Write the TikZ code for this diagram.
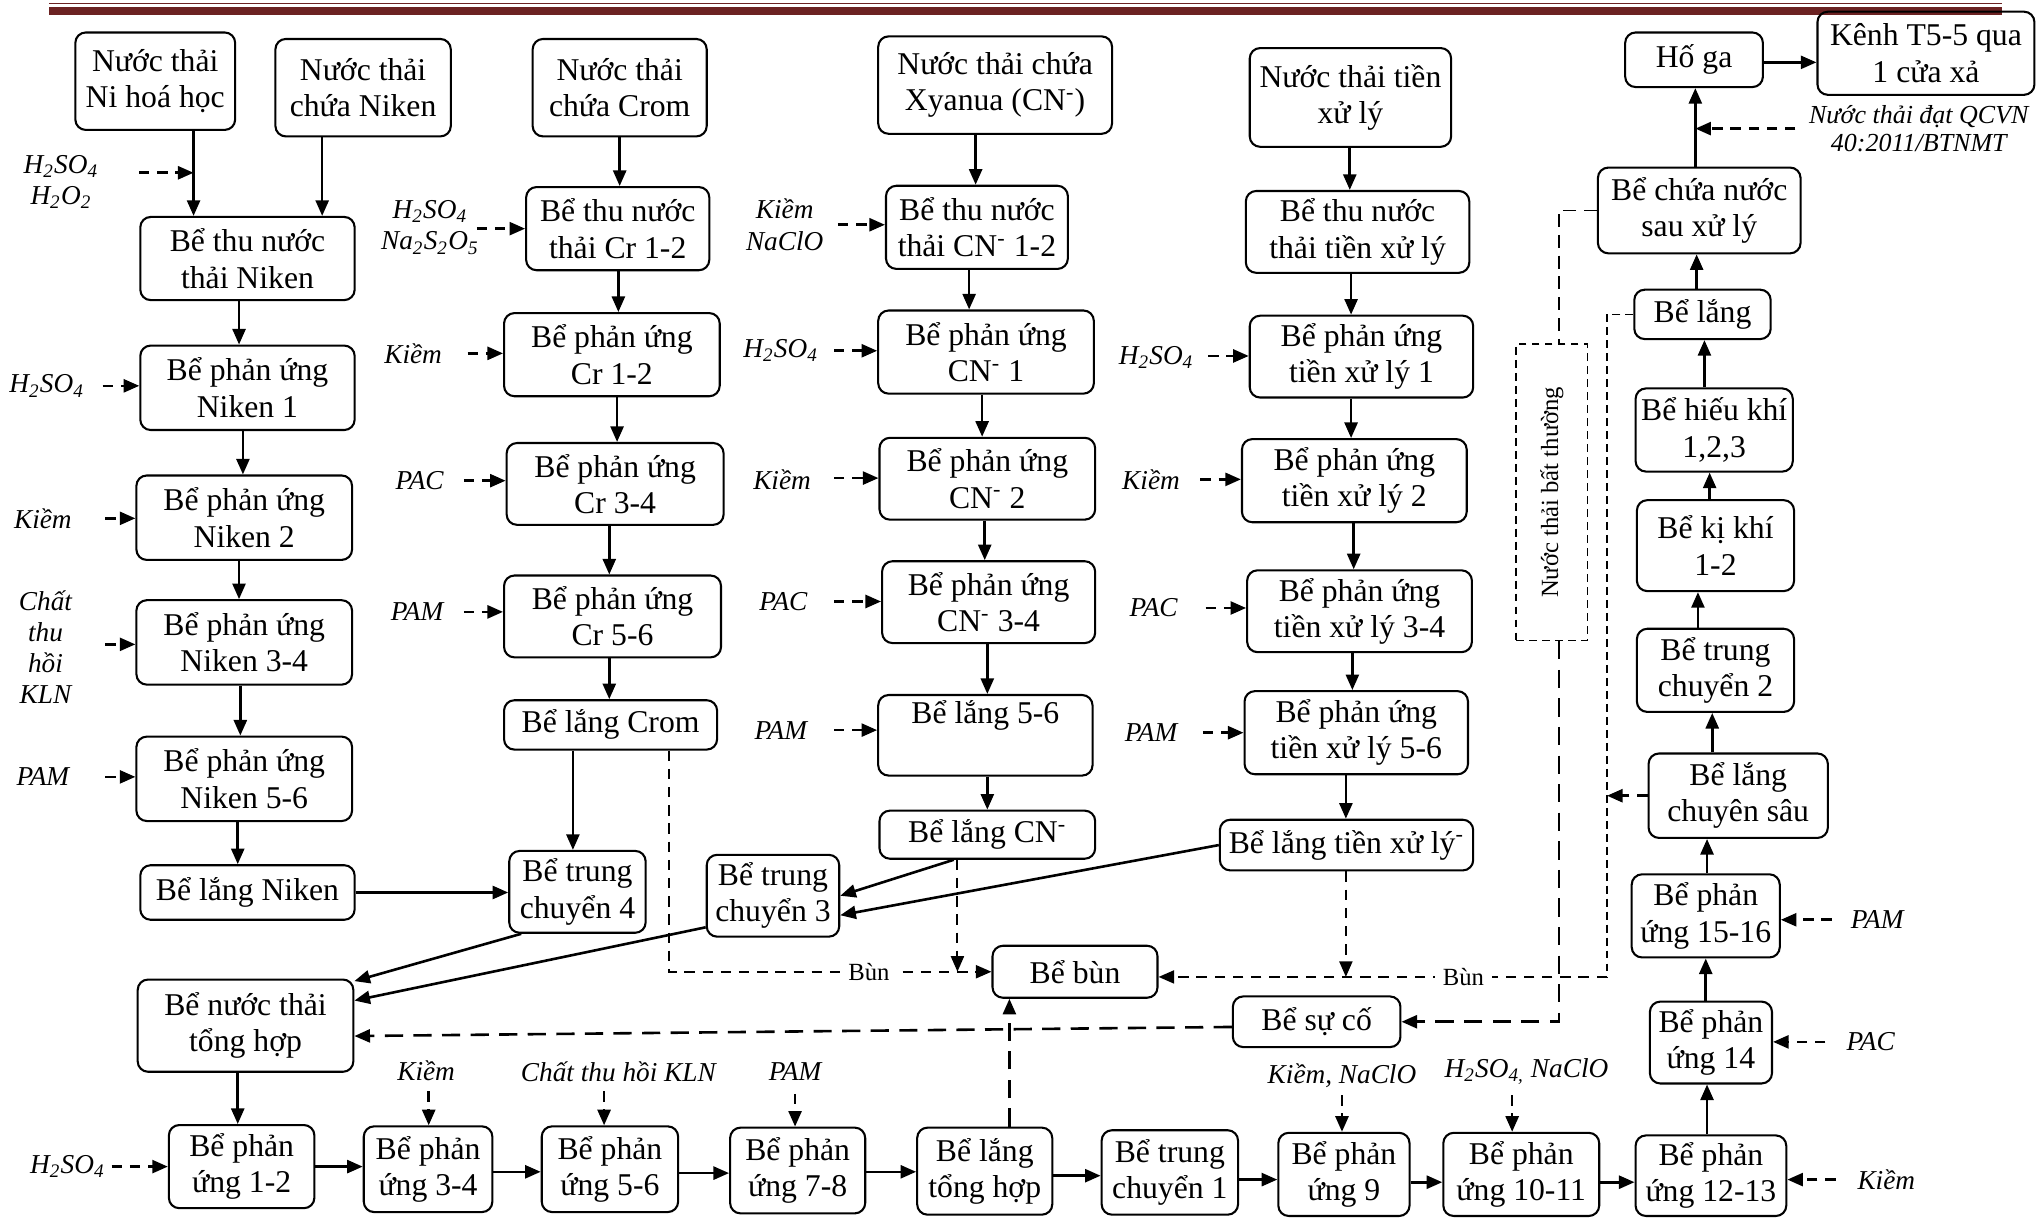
\documentclass[tikz,border=0pt]{standalone}
\usepackage{fontspec}
\setmainfont{Liberation Serif}
\usepackage{graphicx}
\usetikzlibrary{arrows.meta}
\definecolor{hdr}{RGB}{108,34,34}

\tikzset{
  box/.style={draw, line width=0.8pt, rounded corners=4pt, align=center, inner sep=0pt,
    font=\fontsize{12.2}{14}\selectfont},
  tip/.style={-{Triangle[length=6pt,width=5pt]}},
  flow/.style={line width=1pt, tip},
  feed/.style={line width=1pt, dash pattern=on 4pt off 3pt, tip},
  rg/.style={font=\fontsize{10.5}{12}\selectfont\itshape, align=center, inner sep=0pt},
  mud/.style={line width=0.8pt, dash pattern=on 4pt off 3pt},
  longdash/.style={line width=1pt, dash pattern=on 7pt off 4pt},
  middash/.style={line width=0.7pt, dash pattern=on 5pt off 3pt},
  thindash/.style={line width=0.6pt, dash pattern=on 3pt off 2pt},
  small/.style={font=\fontsize{9.5}{11}\selectfont, inner sep=3pt}
}

% box from corner (x1,y1) to (x2,y2)
\newcommand\bx[6]{\node[box, minimum width={(#4-#2)*0.5pt}, minimum height={(#5-#3)*0.5pt}] (#1) at ({(#2+#4)/2},{(#3+#5)/2}) {#6};}
% vertical / horizontal process arrows at a given x or y
\newcommand\vdown[3]{\coordinate (vx) at (#3,0); \draw[flow] (#1.south -| vx) -- (#2.north -| vx);}
\newcommand\vup[3]{\coordinate (vx) at (#3,0); \draw[flow] (#1.north -| vx) -- (#2.south -| vx);}
\newcommand\hright[3]{\coordinate (hy) at (0,#3); \draw[flow] (#1.east |- hy) -- (#2.west |- hy);}
% chemical dosing arrows
\newcommand\feedW[5]{\node[rg] (#1) at (#2) {#3}; \coordinate (#1s) at (#4); \draw[feed] (#1s) -- (#1s -| #5.west);}
\newcommand\feedE[5]{\node[rg] (#1) at (#2) {#3}; \coordinate (#1s) at (#4); \draw[feed] (#1s) -- (#1s -| #5.east);}
\newcommand\feedN[5]{\node[rg] (#1) at (#2) {#3}; \coordinate (#1s) at (#4); \draw[feed] (#1s) -- (#1s |- #5.north);}
\newcommand\hso{H\textsubscript{2}SO\textsubscript{4}}

\begin{document}
\begin{tikzpicture}[x=0.5pt, y=-0.5pt]
\useasboundingbox (0,0) rectangle (1568,937);

% header rule
\draw[hdr, line width=0.5pt] (38,2.5) -- (1541,2.5);
\draw[hdr, line width=3pt] (38,8.5) -- (1541,8.5);

% Niken line
\bx{A1}{58}{25}{181}{100}{Nước thải\\Ni hoá học}
\bx{A2}{212}{30}{347}{105}{Nước thải\\chứa Niken}
\bx{A3}{108}{167}{273}{231}{Bể thu nước\\thải Niken}
\bx{A4}{108}{266}{273}{331}{Bể phản ứng\\Niken 1}
\bx{A5}{105}{366}{271}{431}{Bể phản ứng\\Niken 2}
\bx{A6}{105}{462}{271}{527}{Bể phản ứng\\Niken 3-4}
\bx{A7}{105}{567}{271}{632}{Bể phản ứng\\Niken 5-6}
\bx{A8}{108}{666}{273}{708}{Bể lắng Niken}

% Crom line
\bx{B1}{410}{30}{544}{105}{Nước thải\\chứa Crom}
\bx{B2}{405}{144}{546}{208}{Bể thu nước\\thải Cr 1-2}
\bx{B3}{388}{241}{554}{305}{Bể phản ứng\\Cr 1-2}
\bx{B4}{390}{341}{557}{404}{Bể phản ứng\\Cr 3-4}
\bx{B5}{388}{443}{555}{506}{Bể phản ứng\\Cr 5-6}
\bx{B6}{388}{539}{552}{577}{Bể lắng Crom}
\bx{B7}{392}{655}{497}{718}{Bể trung\\chuyển 4}

% Xyanua line
\bx{C1}{676}{28}{856}{103}{Nước thải chứa\\Xyanua (CN\textsuperscript{-})}
\bx{C2}{682}{143}{822}{207}{Bể thu nước\\thải CN\textsuperscript{-} 1-2}
\bx{C3}{676}{239}{842}{303}{Bể phản ứng\\CN\textsuperscript{-} 1}
\bx{C4}{677}{337}{843}{400}{Bể phản ứng\\CN\textsuperscript{-} 2}
\bx{C5}{679}{432}{843}{495}{Bể phản ứng\\CN\textsuperscript{-} 3-4}
\bx{C6}{676}{535}{841}{597}{Bể lắng 5-6\\\strut}
\bx{C7}{677}{624}{843}{661}{Bể lắng CN\textsuperscript{-}}
\bx{D3}{544}{658}{646}{721}{Bể trung\\chuyển 3}

% pre-treatment line
\bx{E1}{962}{37}{1117}{113}{Nước thải tiền\\xử lý}
\bx{E2}{959}{147}{1131}{210}{Bể thu nước\\thải tiền xử lý}
\bx{E3}{962}{243}{1134}{306}{Bể phản ứng\\tiền xử lý 1}
\bx{E4}{956}{338}{1129}{402}{Bể phản ứng\\tiền xử lý 2}
\bx{E5}{960}{439}{1133}{502}{Bể phản ứng\\tiền xử lý 3-4}
\bx{E6}{958}{532}{1130}{596}{Bể phản ứng\\tiền xử lý 5-6}
\bx{E7}{939}{631}{1134}{670}{Bể lắng tiền xử lý\textsuperscript{-}}

\bx{G}{106}{754}{272}{825}{Bể nước thải\\tổng hợp}
\bx{bun}{764}{728}{891}{768}{Bể bùn}
\bx{sc}{949}{767}{1078}{806}{Bể sự cố}

% final treatment column
\bx{R1}{1251}{25}{1357}{67}{Hố ga}
\bx{R2}{1399}{9}{1566}{73}{Kênh T5-5 qua\\1 cửa xả}
\bx{R3}{1230}{129}{1386}{195}{Bể chứa nước\\sau xử lý}
\bx{R4}{1258}{223}{1363}{261}{Bể lắng}
\bx{R5}{1259}{299}{1380}{363}{Bể hiếu khí\\1,2,3}
\bx{R6}{1260}{385}{1381}{455}{Bể kị khí\\1-2}
\bx{R7}{1260}{484}{1381}{548}{Bể trung\\chuyển 2}
\bx{R8}{1269}{580}{1407}{645}{Bể lắng\\chuyên sâu}
\bx{R9}{1256}{673}{1370}{737}{Bể phản\\ứng 15-16}
\bx{R10}{1270}{771}{1364}{834}{Bể phản\\ứng 14}
\bx{R11}{1259}{874}{1375}{936}{Bể phản\\ứng 12-13}

% bottom row
\bx{F1}{130}{866}{242}{930}{Bể phản\\ứng 1-2}
\bx{F2}{280}{867}{379}{933}{Bể phản\\ứng 3-4}
\bx{F3}{417}{867}{522}{933}{Bể phản\\ứng 5-6}
\bx{F4}{562}{868}{666}{934}{Bể phản\\ứng 7-8}
\bx{F5}{706}{868}{810}{935}{Bể lắng\\tổng hợp}
\bx{F6}{848}{870}{953}{935}{Bể trung\\chuyển 1}
\bx{F7}{984}{872}{1085}{936}{Bể phản\\ứng 9}
\bx{F8}{1111}{872}{1231}{936}{Bể phản\\ứng 10-11}

% abnormal wastewater frame
\node[draw, thindash, minimum width=27.5pt, minimum height=114pt, inner sep=0pt] (abn) at (1194.5,379)
  {\rotatebox{90}{\fontsize{9.5}{11}\selectfont Nước thải bất thường}};

% ---- process flow ----
\vdown{A1}{A3}{149}
\vdown{A2}{A3}{248}
\vdown{A3}{A4}{184}
\vdown{A4}{A5}{187}
\vdown{A5}{A6}{184}
\vdown{A6}{A7}{185}
\vdown{A7}{A8}{183}
\draw[flow] (A8.east) -- (A8.east -| B7.west);

\vdown{B1}{B2}{477}
\vdown{B2}{B3}{476}
\vdown{B3}{B4}{475}
\vdown{B4}{B5}{469}
\vdown{B5}{B6}{469}
\vdown{B6}{B7}{441}

\vdown{C1}{C2}{751}
\vdown{C2}{C3}{746}
\vdown{C3}{C4}{756}
\vdown{C4}{C5}{758}
\vdown{C5}{C6}{760}
\vdown{C6}{C7}{760}

\vdown{E1}{E2}{1039}
\vdown{E2}{E3}{1040}
\vdown{E3}{E4}{1040}
\vdown{E4}{E5}{1042}
\vdown{E5}{E6}{1041}
\vdown{E6}{E7}{1036}

\draw[flow] ([xshift=5pt]B7.south west) -- ([yshift=-1pt]G.north east);
\draw[flow] ([yshift=4pt]D3.south west) -- ([yshift=-8.5pt]G.north east);
\draw[flow] ([xshift=29pt]C7.south west) -- (D3.east);
\draw[flow] (E7.west) -- ([yshift=-7.5pt]D3.east);

\vdown{G}{F1}{183}
\hright{F1}{F2}{898}
\hright{F2}{F3}{902}
\hright{F3}{F4}{903}
\hright{F4}{F5}{902}
\hright{F5}{F6}{905}
\hright{F6}{F7}{908}
\hright{F7}{F8}{910}
\hright{F8}{R11}{910}

\vup{R11}{R10}{1314}
\vup{R10}{R9}{1313}
\vup{R9}{R8}{1314}
\vup{R8}{R7}{1318}
\vup{R7}{R6}{1307}
\vup{R6}{R5}{1316}
\vup{R5}{R4}{1312}
\vup{R4}{R3}{1306}
\coordinate (up) at (1305,0);
\draw[flow] (R3.north -| up) -- (R1.south -| up);
\hright{R1}{R2}{48}

% ---- dosing ----
\coordinate (k1) at (149,133);
\node[rg] (rA1) at (47,140) {\hso\\H\textsubscript{2}O\textsubscript{2}};
\coordinate (rA1s) at (107,133);
\draw[feed] (rA1s) -- (k1);
\feedW{rA4}{36,297}{\hso}{79,297}{A4}
\feedW{rA5}{33,399}{Kiềm}{81,399}{A5}
\feedW{rA6}{35,498}{Chất\\thu\\hồi\\KLN}{81,496}{A6}
\feedW{rA7}{33,598}{PAM}{81,598}{A7}

\feedW{rB2}{331,175}{\hso\\Na\textsubscript{2}S\textsubscript{2}O\textsubscript{5}}{367,176}{B2}
\feedW{rB3}{318,272}{Kiềm}{360,272}{B3}
\feedW{rB4}{323,370}{PAC}{357,370}{B4}
\feedW{rB5}{321,471}{PAM}{357,471}{B5}

\feedW{rC2}{604,173}{Kiềm\\NaClO}{645,173}{C2}
\feedW{rC3}{601,270}{\hso}{642,270}{C3}
\feedW{rC4}{602,369}{Kiềm}{642,368}{C4}
\feedW{rC5}{603,463}{PAC}{642,463}{C5}
\feedW{rC6}{601,562}{PAM}{642,562}{C6}

\feedW{rE3}{890,275}{\hso}{930,274}{E3}
\feedW{rE4}{886,369}{Kiềm}{924,369}{E4}
\feedW{rE5}{888,468}{PAC}{928,468}{E5}
\feedW{rE6}{886,564}{PAM}{926,564}{E6}

\feedE{rR9}{1445,708}{PAM}{1410,708}{R9}
\feedE{rR10}{1440,802}{PAC}{1405,802}{R10}
\feedE{rR11}{1452,908}{Kiềm}{1413,908}{R11}

\feedW{rF1}{52,898}{\hso}{86,898}{F1}
\feedN{rF2}{328,824}{Kiềm}{330,840}{F2}
\feedN{rF3}{476,825}{Chất thu hồi KLN}{465,840}{F3}
\feedN{rF4}{612,825}{PAM}{612,842}{F4}
\feedN{rF7}{1033,828}{Kiềm, NaClO}{1033,843}{F7}
\feedN{rF8}{1175,825}{H\textsubscript{2}SO\textsubscript{4,} NaClO}{1164,843}{F8}

\node[rg, font=\fontsize{10}{11}\selectfont\itshape] (qc) at (1477,99) {Nước thải đạt QCVN\\40:2011/BTNMT};
\coordinate (qcs) at (1382,99);
\draw[feed] (qcs) -- (qcs -| up);

% ---- sludge and emergency lines ----
\coordinate (m1) at (515,748);
\draw[mud, tip] (B6.south -| m1) |- (bun.west) node[pos=0.81, fill=white, small] (bunA) {Bùn};
\coordinate (m2) at (737,0);
\draw[mud, tip] (C7.south -| m2) -- (m2 |- bun.west);

\coordinate (m3) at (1237,752);
\draw[thindash] (R4.west) -| (m3);
\draw[mud, tip] (m3) -- (bun.east |- m3) node[pos=0.32, fill=white, small] (bunB) {Bùn};
\coordinate (m4) at (1036,0);
\draw[mud, tip] (E7.south -| m4) -- (m4 |- m3);
\draw[feed] (R8.west) -- (R8.west -| m3);

\coordinate (m5) at (1200,0);
\draw[middash] (R3.west) -| (abn.north -| m5);
\draw[longdash, tip] (abn.south -| m5) |- (sc.east);
\draw[longdash, tip] ([yshift=-2pt]sc.west) -- ([yshift=-4pt]G.east);
\coordinate (m6) at (777,0);
\draw[longdash, tip] (F5.north -| m6) -- (bun.south -| m6);

\end{tikzpicture}
\end{document}
